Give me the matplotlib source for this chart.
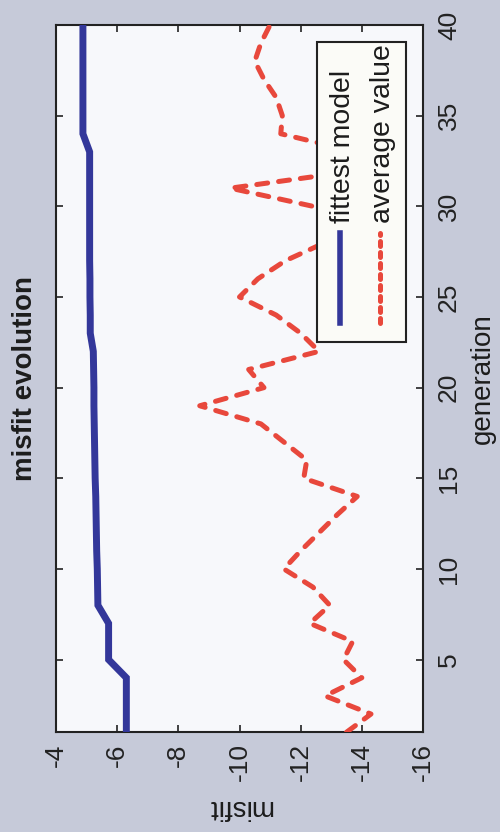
import numpy as np
import matplotlib
matplotlib.use("Agg")
import matplotlib.pyplot as plt
from matplotlib.patches import Rectangle
from matplotlib.lines import Line2D

plt.rcParams['font.family'] = ['Liberation Sans', 'DejaVu Sans']
plt.rcParams['axes.unicode_minus'] = False

# GA run: misfit per generation
generation = np.arange(1, 41)
fittest_model = [-6.3, -6.3, -6.3, -6.3, -5.72, -5.72, -5.72, -5.37, -5.36, -5.35,
                 -5.33, -5.32, -5.31, -5.3, -5.28, -5.27, -5.26, -5.25, -5.24, -5.24,
                 -5.23, -5.22, -5.12, -5.12, -5.11, -5.11, -5.1, -5.1, -5.1, -5.1,
                 -5.1, -5.1, -5.1, -4.88, -4.88, -4.88, -4.88, -4.88, -4.88, -4.88]
average_value = [-13.5, -14.3, -12.8, -14.0, -13.4, -13.7, -12.3, -12.95, -12.4, -11.45,
                 -12.0, -12.6, -13.2, -13.85, -12.1, -12.2, -11.45, -10.7, -8.7, -10.8,
                 -10.3, -12.6, -12.0, -11.2, -10.0, -10.6, -11.5, -12.8, -13.1, -12.4,
                 -9.7, -14.0, -13.8, -11.35, -11.4, -11.2, -10.8, -10.5, -10.7, -11.0]

misfit_ticks = [-4, -6, -8, -10, -12, -14, -16]
gen_ticks = [5, 10, 15, 20, 25, 30, 35, 40]

BLUE = '#33379a'
RED = '#e8483c'
INK = '#1c1c1c'
FS = 19

fig = plt.figure(figsize=(5, 8.32), dpi=100, facecolor='#c6cad9')
ax = fig.add_axes([0.112, 0.120, 0.734, 0.850], facecolor='#f7f8fb')

# plot is drawn sideways: misfit runs left->right (decreasing), generation bottom->top
ax.plot(fittest_model, generation, color=BLUE, lw=5, solid_joinstyle='miter', zorder=3)
ax.plot(average_value, generation, color=RED, lw=3.6, dashes=(2.2, 2.2),
        dash_capstyle='round', zorder=3)

ax.set_xlim(-4, -16)
ax.set_ylim(1, 40)
ax.set_xticks(misfit_ticks)
ax.set_xticklabels([str(v) for v in misfit_ticks])
ax.set_yticks(gen_ticks)
ax.set_yticklabels([str(v) for v in gen_ticks])

ax.tick_params(direction='in', length=5, width=1.2, top=True, bottom=True,
               left=True, right=True, labelleft=False, labelright=True,
               labelsize=FS, colors='#222222')
ax.tick_params(axis='x', pad=8)
ax.tick_params(axis='y', pad=10)
for lab in ax.get_xticklabels():
    lab.set_rotation(90)
    lab.set_ha('center')
    lab.set_va('top')
for lab in ax.get_yticklabels():
    lab.set_rotation(90)
    lab.set_ha('left')
    lab.set_va('center')
for sp in ax.spines.values():
    sp.set_linewidth(1.5)
    sp.set_color('#222222')

# title and axis labels, rotated with the plot
ax.text(-0.084, 0.5, 'misfit evolution', transform=ax.transAxes, rotation=90,
        ha='center', va='center', fontsize=FS + 1, fontweight='bold', color=INK)
ax.text(0.5, -0.106, 'misfit', transform=ax.transAxes, rotation=180,
        ha='center', va='center', fontsize=FS + 1, color=INK)
ax.text(1.163, 0.5, 'generation', transform=ax.transAxes, rotation=90,
        ha='center', va='center', fontsize=FS + 1, color=INK)

# legend box (vertical layout)
ax.add_patch(Rectangle((0.711, 0.552), 0.243, 0.424, transform=ax.transAxes,
                       facecolor='#fbfbf7', edgecolor='#222222', lw=1.5, zorder=5))
ax.add_line(Line2D([0.774, 0.774], [0.579, 0.706], transform=ax.transAxes,
                   color=BLUE, lw=4, zorder=6))
ax.add_line(Line2D([0.883, 0.883], [0.579, 0.706], transform=ax.transAxes,
                   color=RED, lw=3.6, dashes=(1.0, 1.2), dash_capstyle='round', zorder=6))
ax.text(0.782, 0.72, 'fittest model', transform=ax.transAxes, rotation=90,
        ha='center', va='bottom', fontsize=20.4, color=INK, zorder=6)
ax.text(0.891, 0.72, 'average value', transform=ax.transAxes, rotation=90,
        ha='center', va='bottom', fontsize=20.4, color=INK, zorder=6)

fig.savefig('out.png', dpi=100, facecolor=fig.get_facecolor())
